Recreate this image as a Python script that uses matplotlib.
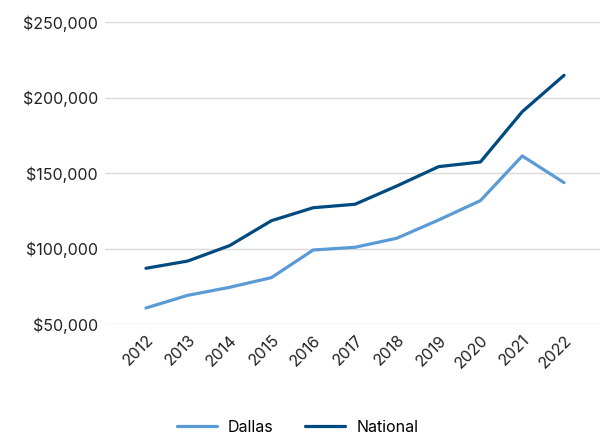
import matplotlib
matplotlib.use("Agg")
import matplotlib.pyplot as plt
from matplotlib.ticker import FuncFormatter

years = ["2012", "2013", "2014", "2015", "2016", "2017", "2018", "2019", "2020", "2021", "2022"]
dallas = [60600, 69000, 74300, 80700, 99000, 100800, 106800, 118900, 131700, 161300, 143600]
national = [86900, 91700, 101900, 118400, 127000, 129300, 141400, 154200, 157300, 190600, 214700]

plt.rcParams['font.family'] = ['Inter', 'DejaVu Sans']

fig = plt.figure(figsize=(6.01, 4.34), dpi=100)
ax = fig.add_axes([105/601, 1 - 324/434, (600 - 105)/601, (324 - 22)/434])

x = list(range(len(years)))
ax.plot(x, dallas, color="#5B9BD5", lw=2.3, label="Dallas", solid_capstyle="round")
ax.plot(x, national, color="#004A80", lw=2.3, label="National", solid_capstyle="round")

ax.set_ylim(50000, 250000)
ax.set_yticks([50000, 100000, 150000, 200000, 250000])
ax.yaxis.set_major_formatter(FuncFormatter(lambda v, p: f"${v:,.0f}"))
ax.set_xlim(-0.98, 10.86)
ax.set_xticks(x)
ax.set_xticklabels(years, rotation=45, ha="right", va="top", rotation_mode="anchor")

ax.grid(axis="y", color="#d9d9d9", lw=1)
ax.set_axisbelow(True)
for s in ax.spines.values():
    s.set_visible(False)
ax.tick_params(axis="both", length=0, labelsize=11.5, colors="#222222")
ax.tick_params(axis="y", pad=5)
ax.tick_params(axis="x", pad=6)

fig.legend(loc="lower center", bbox_to_anchor=(0.495, -0.035), ncol=2, frameon=False,
           fontsize=11.5, handlelength=2.5, columnspacing=2.0, handletextpad=0.7)

fig.savefig("out.png", dpi=100, facecolor="white")
